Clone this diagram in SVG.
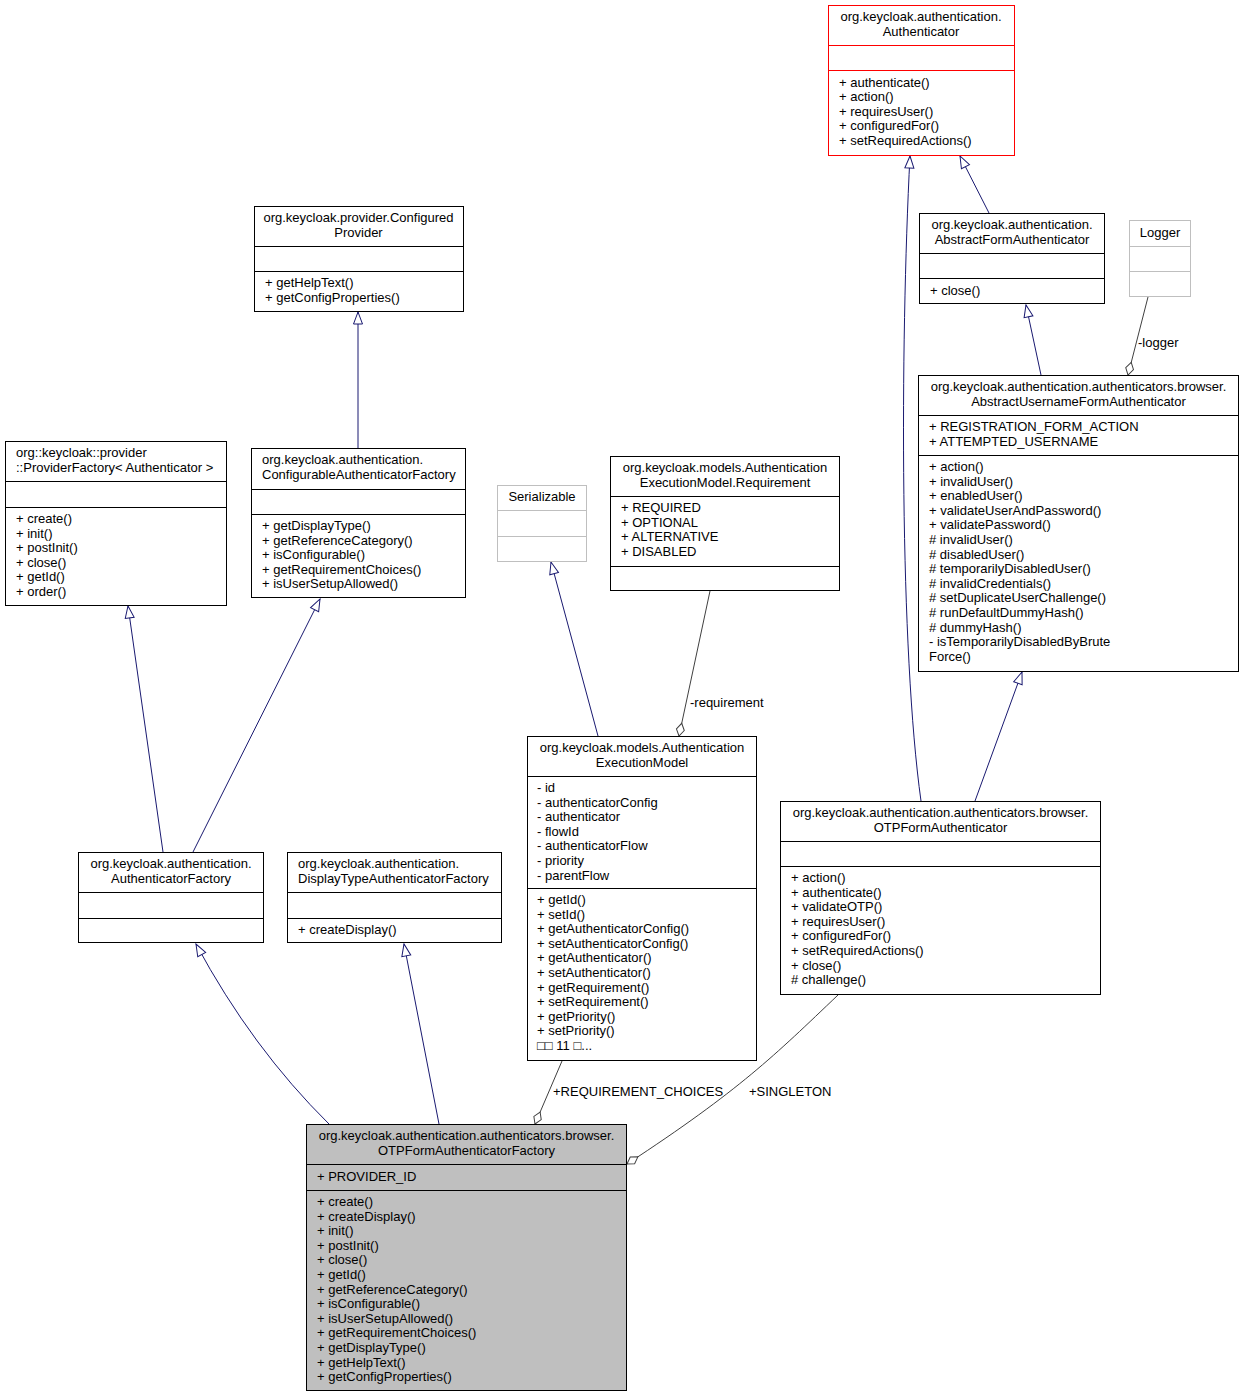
<svg xmlns="http://www.w3.org/2000/svg" width="1244" height="1397" viewBox="0 0 1244 1397">
<style>
.bg{fill:#fff}
.box{fill:#fff;stroke:#000;stroke-width:1}
.red{fill:#fff;stroke:#ff0000;stroke-width:1}
.gray{fill:#fff;stroke:#bfbfbf;stroke-width:1}
.sel{fill:#bfbfbf;stroke:#000;stroke-width:1}
.dv{stroke:#000;stroke-width:1}
.dvr{stroke:#ff0000;stroke-width:1}
.dvg{stroke:#bfbfbf;stroke-width:1}
text{font-family:"Liberation Sans",Arial,Helvetica,sans-serif;font-size:13px;fill:#000}
.c{text-anchor:middle}
.inh{fill:none;stroke:#191970;stroke-width:1;marker-end:url(#tri)}
.agg{fill:none;stroke:#404040;stroke-width:1;marker-end:url(#dia)}
</style>
<defs>
<marker id="tri" markerUnits="userSpaceOnUse" viewBox="0 0 13 10" markerWidth="13" markerHeight="10" refX="12.5" refY="5" orient="auto" overflow="visible">
<path d="M0.5,0.5 L12.5,5 L0.5,9.5 Z" fill="#fff" stroke="#191970" stroke-width="1"/>
</marker>
<marker id="dia" markerUnits="userSpaceOnUse" viewBox="0 0 14 9" markerWidth="14" markerHeight="9" refX="13.5" refY="4.5" orient="auto" overflow="visible">
<path d="M0.5,4.5 L7,0.5 L13.5,4.5 L7,8.5 Z" fill="#fff" stroke="#404040" stroke-width="1"/>
</marker>
</defs>
<rect class="bg" x="0" y="0" width="1244" height="1397"/>

<g id="connectors">
<path class="inh" d="M329,1124 Q252,1048 196,944"/>
<path class="inh" d="M439,1124 L404,944"/>
<path class="inh" d="M163,852 L128,606"/>
<path class="inh" d="M193,852 L320,599"/>
<path class="inh" d="M358,448 L358,312"/>
<path class="inh" d="M598,736 L551,562"/>
<path class="agg" d="M710,591 L679,736"/>
<text x="690" y="707">-requirement</text>
<path class="agg" d="M562,1061 L535,1124"/>
<text x="553" y="1096">+REQUIREMENT_CHOICES</text>
<path class="agg" d="M838,995 C775,1055 740,1090 627,1164"/>
<text x="749" y="1096">+SINGLETON</text>
<path class="inh" d="M921,801 C900,650 900,350 910,156"/>
<path class="inh" d="M975,801 L1022,672"/>
<path class="inh" d="M1041,375 L1026,305"/>
<path class="inh" d="M989,213 L960,156"/>
<path class="agg" d="M1148,297 L1128,375"/>
<text x="1138" y="347">-logger</text>
</g>

<g id="Authenticator">
<rect class="red" x="828.5" y="5.5" width="186" height="150"/>
<line class="dvr" x1="828.5" y1="45.5" x2="1014.5" y2="45.5"/>
<line class="dvr" x1="828.5" y1="70.5" x2="1014.5" y2="70.5"/>
<text class="c" x="921" y="21">org.keycloak.authentication.</text>
<text class="c" x="921" y="36">Authenticator</text>
<text x="839" y="86.5">+ authenticate()</text>
<text x="839" y="101">+ action()</text>
<text x="839" y="115.7">+ requiresUser()</text>
<text x="839" y="130.3">+ configuredFor()</text>
<text x="839" y="145">+ setRequiredActions()</text>
</g>

<g id="AbstractFormAuthenticator">
<rect class="box" x="919.5" y="213.5" width="185" height="90"/>
<line class="dv" x1="919.5" y1="253.5" x2="1104.5" y2="253.5"/>
<line class="dv" x1="919.5" y1="278.5" x2="1104.5" y2="278.5"/>
<text class="c" x="1012" y="229">org.keycloak.authentication.</text>
<text class="c" x="1012" y="244">AbstractFormAuthenticator</text>
<text x="930" y="295">+ close()</text>
</g>

<g id="Logger">
<rect class="gray" x="1129.5" y="220.5" width="61" height="76"/>
<line class="dvg" x1="1129.5" y1="246.5" x2="1190.5" y2="246.5"/>
<line class="dvg" x1="1129.5" y1="271.5" x2="1190.5" y2="271.5"/>
<text class="c" x="1160" y="237">Logger</text>
</g>

<g id="AbstractUsernameFormAuthenticator">
<rect class="box" x="918.5" y="375.5" width="320" height="296"/>
<line class="dv" x1="918.5" y1="415.5" x2="1238.5" y2="415.5"/>
<line class="dv" x1="918.5" y1="455.5" x2="1238.5" y2="455.5"/>
<text class="c" x="1078.5" y="391">org.keycloak.authentication.authenticators.browser.</text>
<text class="c" x="1078.5" y="406">AbstractUsernameFormAuthenticator</text>
<text x="929" y="431">+ REGISTRATION_FORM_ACTION</text>
<text x="929" y="445.6">+ ATTEMPTED_USERNAME</text>
<text x="929" y="471">+ action()</text>
<text x="929" y="485.6">+ invalidUser()</text>
<text x="929" y="500.2">+ enabledUser()</text>
<text x="929" y="514.8">+ validateUserAndPassword()</text>
<text x="929" y="529.4">+ validatePassword()</text>
<text x="929" y="544">#&#160;invalidUser()</text>
<text x="929" y="558.6">#&#160;disabledUser()</text>
<text x="929" y="573.2">#&#160;temporarilyDisabledUser()</text>
<text x="929" y="587.8">#&#160;invalidCredentials()</text>
<text x="929" y="602.4">#&#160;setDuplicateUserChallenge()</text>
<text x="929" y="617">#&#160;runDefaultDummyHash()</text>
<text x="929" y="631.6">#&#160;dummyHash()</text>
<text x="929" y="646.2">- isTemporarilyDisabledByBrute</text>
<text x="929" y="660.8">Force()</text>
</g>

<g id="ConfiguredProvider">
<rect class="box" x="254.5" y="206.5" width="209" height="105"/>
<line class="dv" x1="254.5" y1="246.5" x2="463.5" y2="246.5"/>
<line class="dv" x1="254.5" y1="271.5" x2="463.5" y2="271.5"/>
<text class="c" x="358.5" y="222">org.keycloak.provider.Configured</text>
<text class="c" x="358.5" y="237">Provider</text>
<text x="265" y="287">+ getHelpText()</text>
<text x="265" y="301.6">+ getConfigProperties()</text>
</g>

<g id="ProviderFactory">
<rect class="box" x="5.5" y="441.5" width="221" height="164"/>
<line class="dv" x1="5.5" y1="481.5" x2="226.5" y2="481.5"/>
<line class="dv" x1="5.5" y1="507.5" x2="226.5" y2="507.5"/>
<text x="16" y="457">org::keycloak::provider</text>
<text x="16" y="472">::ProviderFactory&lt; Authenticator &gt;</text>
<text x="16" y="523">+ create()</text>
<text x="16" y="537.6">+ init()</text>
<text x="16" y="552.2">+ postInit()</text>
<text x="16" y="566.8">+ close()</text>
<text x="16" y="581.4">+ getId()</text>
<text x="16" y="596">+ order()</text>
</g>

<g id="ConfigurableAuthenticatorFactory">
<rect class="box" x="251.5" y="448.5" width="214" height="149"/>
<line class="dv" x1="251.5" y1="489.5" x2="465.5" y2="489.5"/>
<line class="dv" x1="251.5" y1="514.5" x2="465.5" y2="514.5"/>
<text x="262" y="464">org.keycloak.authentication.</text>
<text x="262" y="479">ConfigurableAuthenticatorFactory</text>
<text x="262" y="530">+ getDisplayType()</text>
<text x="262" y="544.6">+ getReferenceCategory()</text>
<text x="262" y="559.2">+ isConfigurable()</text>
<text x="262" y="573.8">+ getRequirementChoices()</text>
<text x="262" y="588.4">+ isUserSetupAllowed()</text>
</g>

<g id="Serializable">
<rect class="gray" x="497.5" y="485.5" width="89" height="76"/>
<line class="dvg" x1="497.5" y1="510.5" x2="586.5" y2="510.5"/>
<line class="dvg" x1="497.5" y1="536.5" x2="586.5" y2="536.5"/>
<text class="c" x="542" y="501">Serializable</text>
</g>

<g id="Requirement">
<rect class="box" x="610.5" y="456.5" width="229" height="134"/>
<line class="dv" x1="610.5" y1="496.5" x2="839.5" y2="496.5"/>
<line class="dv" x1="610.5" y1="566.5" x2="839.5" y2="566.5"/>
<text class="c" x="725" y="472">org.keycloak.models.Authentication</text>
<text class="c" x="725" y="487">ExecutionModel.Requirement</text>
<text x="621" y="512">+ REQUIRED</text>
<text x="621" y="526.6">+ OPTIONAL</text>
<text x="621" y="541.2">+ ALTERNATIVE</text>
<text x="621" y="555.8">+ DISABLED</text>
</g>

<g id="AuthenticationExecutionModel">
<rect class="box" x="527.5" y="736.5" width="229" height="324"/>
<line class="dv" x1="527.5" y1="776.5" x2="756.5" y2="776.5"/>
<line class="dv" x1="527.5" y1="888.5" x2="756.5" y2="888.5"/>
<text class="c" x="642" y="752">org.keycloak.models.Authentication</text>
<text class="c" x="642" y="767">ExecutionModel</text>
<text x="537" y="792">- id</text>
<text x="537" y="806.6">- authenticatorConfig</text>
<text x="537" y="821.2">- authenticator</text>
<text x="537" y="835.8">- flowId</text>
<text x="537" y="850.4">- authenticatorFlow</text>
<text x="537" y="865">- priority</text>
<text x="537" y="879.6">- parentFlow</text>
<text x="537" y="904">+ getId()</text>
<text x="537" y="918.6">+ setId()</text>
<text x="537" y="933.2">+ getAuthenticatorConfig()</text>
<text x="537" y="947.8">+ setAuthenticatorConfig()</text>
<text x="537" y="962.4">+ getAuthenticator()</text>
<text x="537" y="977">+ setAuthenticator()</text>
<text x="537" y="991.6">+ getRequirement()</text>
<text x="537" y="1006.2">+ setRequirement()</text>
<text x="537" y="1020.8">+ getPriority()</text>
<text x="537" y="1035.4">+ setPriority()</text>
<text x="537" y="1050">□□ 11 □...</text>
</g>

<g id="OTPFormAuthenticator">
<rect class="box" x="780.5" y="801.5" width="320" height="193"/>
<line class="dv" x1="780.5" y1="841.5" x2="1100.5" y2="841.5"/>
<line class="dv" x1="780.5" y1="866.5" x2="1100.5" y2="866.5"/>
<text class="c" x="940.5" y="817">org.keycloak.authentication.authenticators.browser.</text>
<text class="c" x="940.5" y="832">OTPFormAuthenticator</text>
<text x="791" y="882">+ action()</text>
<text x="791" y="896.6">+ authenticate()</text>
<text x="791" y="911.2">+ validateOTP()</text>
<text x="791" y="925.8">+ requiresUser()</text>
<text x="791" y="940.4">+ configuredFor()</text>
<text x="791" y="955">+ setRequiredActions()</text>
<text x="791" y="969.6">+ close()</text>
<text x="791" y="984.2">#&#160;challenge()</text>
</g>

<g id="AuthenticatorFactory">
<rect class="box" x="78.5" y="852.5" width="185" height="90"/>
<line class="dv" x1="78.5" y1="892.5" x2="263.5" y2="892.5"/>
<line class="dv" x1="78.5" y1="918.5" x2="263.5" y2="918.5"/>
<text class="c" x="171" y="868">org.keycloak.authentication.</text>
<text class="c" x="171" y="883">AuthenticatorFactory</text>
</g>

<g id="DisplayTypeAuthenticatorFactory">
<rect class="box" x="287.5" y="852.5" width="214" height="90"/>
<line class="dv" x1="287.5" y1="892.5" x2="501.5" y2="892.5"/>
<line class="dv" x1="287.5" y1="918.5" x2="501.5" y2="918.5"/>
<text x="298" y="868">org.keycloak.authentication.</text>
<text x="298" y="883">DisplayTypeAuthenticatorFactory</text>
<text x="298" y="934">+ createDisplay()</text>
</g>

<g id="OTPFormAuthenticatorFactory">
<rect class="sel" x="306.5" y="1124.5" width="320" height="266"/>
<line class="dv" x1="306.5" y1="1164.5" x2="626.5" y2="1164.5"/>
<line class="dv" x1="306.5" y1="1190.5" x2="626.5" y2="1190.5"/>
<text class="c" x="466.5" y="1140">org.keycloak.authentication.authenticators.browser.</text>
<text class="c" x="466.5" y="1155">OTPFormAuthenticatorFactory</text>
<text x="317" y="1180.5">+ PROVIDER_ID</text>
<text x="317" y="1206">+ create()</text>
<text x="317" y="1220.6">+ createDisplay()</text>
<text x="317" y="1235.2">+ init()</text>
<text x="317" y="1249.8">+ postInit()</text>
<text x="317" y="1264.4">+ close()</text>
<text x="317" y="1279">+ getId()</text>
<text x="317" y="1293.6">+ getReferenceCategory()</text>
<text x="317" y="1308.2">+ isConfigurable()</text>
<text x="317" y="1322.8">+ isUserSetupAllowed()</text>
<text x="317" y="1337.4">+ getRequirementChoices()</text>
<text x="317" y="1352">+ getDisplayType()</text>
<text x="317" y="1366.6">+ getHelpText()</text>
<text x="317" y="1381.2">+ getConfigProperties()</text>
</g>
</svg>
